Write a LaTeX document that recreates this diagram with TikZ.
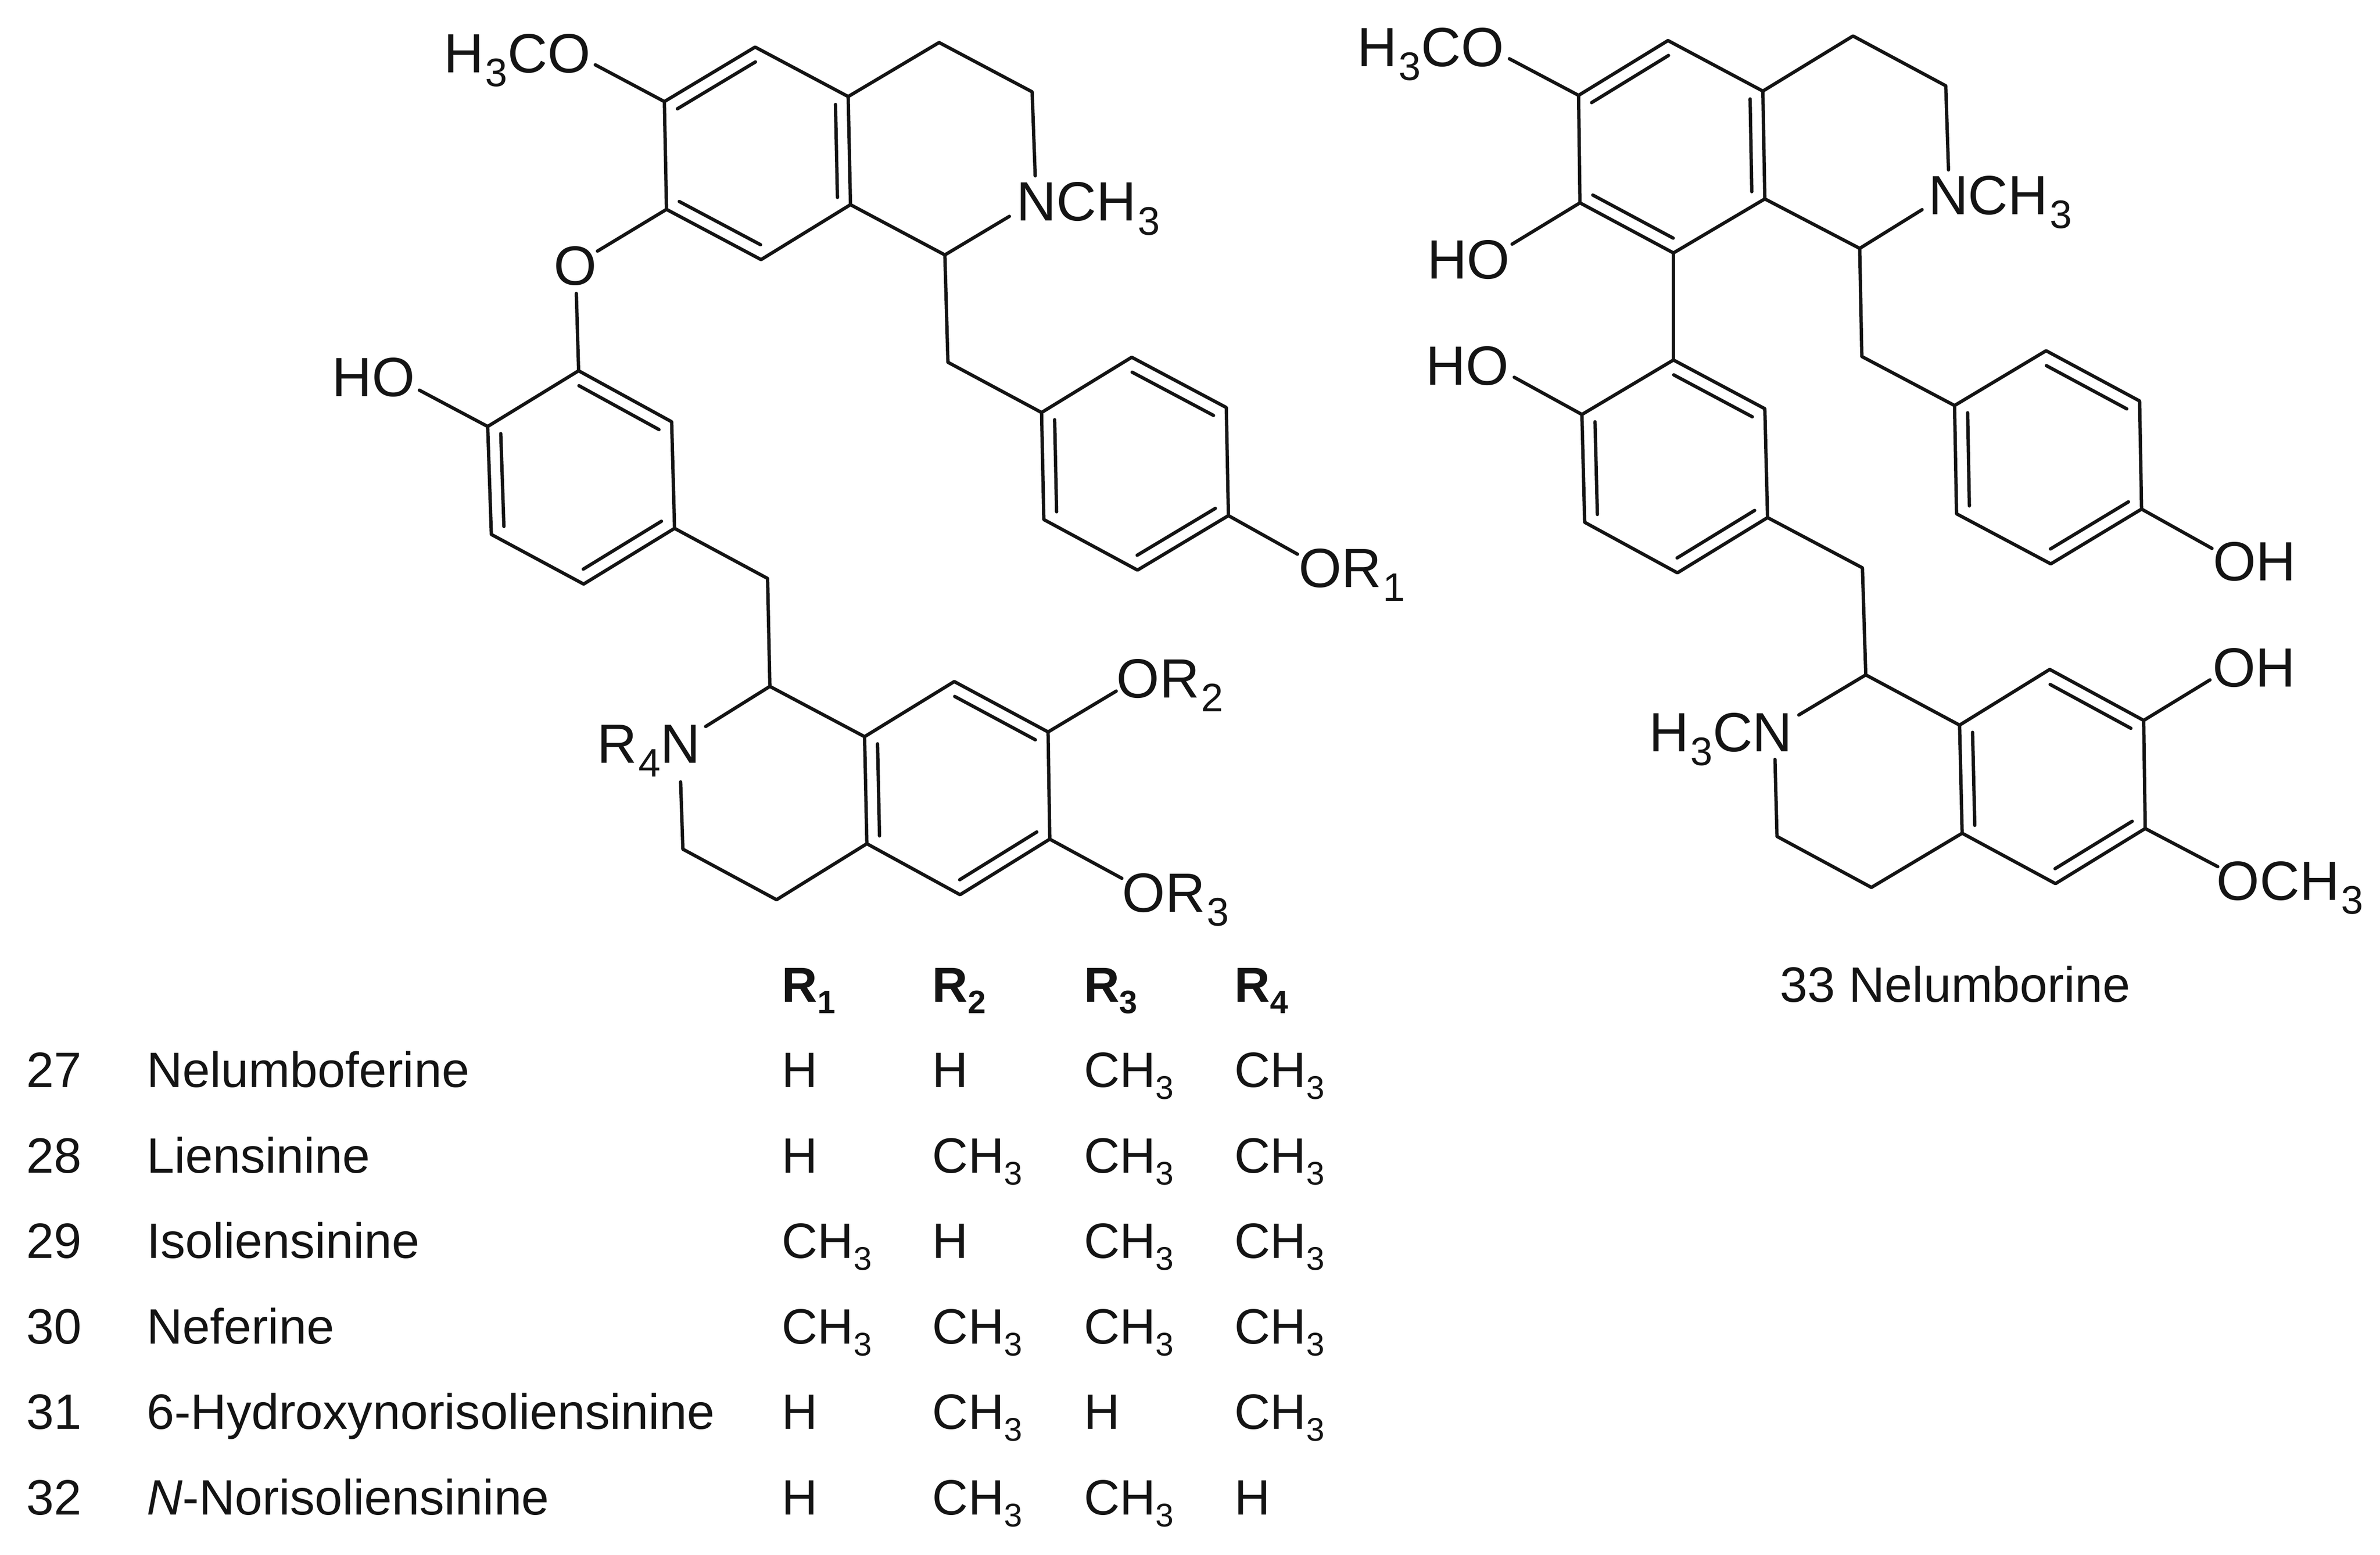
\documentclass[tikz,border=0pt]{standalone}
\usepackage{fontspec}
\setmainfont{Liberation Sans}
\usetikzlibrary{calc}
\newcommand{\lowsub}[1]{\raisebox{-0.24em}{\scalebox{0.66}{#1}}}
\newcommand{\chsub}[1]{\kern0.03em\raisebox{-0.25em}{\scalebox{0.72}{#1}}}
\newcommand{\dblbond}[3]{\draw[bond] ($(#1)!0.14!(#3)$) -- ($(#2)!0.14!(#3)$);}
\tikzset{
  bond/.style={line width=1.1pt,line join=round,line cap=round,draw=black!92},
  chemlabel/.style={anchor=base west,inner sep=0pt,outer sep=0pt,xshift=-0.8pt,text=black!92,font=\fontsize{18.2}{20}\selectfont},
  tablabel/.style={anchor=base west,inner sep=0pt,outer sep=0pt,xshift=-0.7pt,text=black!92,font=\fontsize{16.35}{18}\selectfont},
  tabhead/.style={tablabel,font=\fontsize{16.2}{18}\selectfont\bfseries}
}
\begin{document}
\begin{tikzpicture}[x=0.5pt,y=-0.5pt]
\useasboundingbox (0,0) rectangle (1568,1024.1);
\fill[white] (0,0) rectangle (1568,1024.1);
% ---------- left structure: atoms
\coordinate (la1) at (437.7,66.9); \coordinate (la2) at (497.5,31);
\coordinate (la3) at (558.8,63.6); \coordinate (la4) at (560.3,134.8);
\coordinate (la5) at (501.4,171);  \coordinate (la6) at (439.1,137.9);
\coordinate (la7) at (618.7,28);   \coordinate (la8) at (680,60.5);
\coordinate (laN) at (682,115.8);  \coordinate (laNb) at (665,142.5);
\coordinate (la9) at (622.5,167.9); \coordinate (la10) at (624.5,238.6);
\coordinate (lmeo) at (392.2,42.7); \coordinate (loa) at (393.6,165.4);
\coordinate (lob) at (379.7,193.3); \coordinate (lho) at (276.3,257);
\coordinate (lb1) at (381.2,244.2); \coordinate (lb2) at (442.5,277.8);
\coordinate (lb3) at (444.4,348);   \coordinate (lb4) at (384.5,384.7);
\coordinate (lb5) at (323.7,352);   \coordinate (lb6) at (321.3,280.9);
\coordinate (lch) at (505.7,381);
\coordinate (lc1) at (686.2,271.7); \coordinate (lc2) at (745.6,235.3);
\coordinate (lc3) at (807.9,268.4); \coordinate (lc4) at (809.3,339.6);
\coordinate (lc5) at (749.4,375.5); \coordinate (lc6) at (687.7,342.2);
\coordinate (lor1) at (854.8,365);
\coordinate (ld0) at (507.2,452.1); \coordinate (ldNa) at (464.9,478.5);
\coordinate (ld1) at (569.6,485.2); \coordinate (ld2) at (628.7,448.9);
\coordinate (ld3) at (690.5,482.1); \coordinate (ld4) at (691.6,552.7);
\coordinate (ld5) at (632.5,589.3); \coordinate (ld6) at (571.1,555.7);
\coordinate (ld7) at (511.6,592.6); \coordinate (ld8) at (449.9,559.3);
\coordinate (ldNb) at (448.4,515);
\coordinate (lor2) at (735.4,455.2); \coordinate (lor3) at (739.1,578.5);
\coordinate (lca) at ($(la1)!0.5!(la4)$); \coordinate (lcb) at ($(lb1)!0.5!(lb4)$);
\coordinate (lcc) at ($(lc1)!0.5!(lc4)$); \coordinate (lcd) at ($(ld1)!0.5!(ld4)$);
% left bonds
\draw[bond] (la1) -- (la2) -- (la3) -- (la4) -- (la5) -- (la6) -- cycle;
\draw[bond] (la3) -- (la7) -- (la8) -- (laN);
\draw[bond] (la4) -- (la9) -- (laNb);
\draw[bond] (la9) -- (la10) -- (lc1);
\draw[bond] (la1) -- (lmeo);
\draw[bond] (la6) -- (loa);
\draw[bond] (lob) -- (lb1);
\draw[bond] (lb1) -- (lb2) -- (lb3) -- (lb4) -- (lb5) -- (lb6) -- cycle;
\draw[bond] (lb6) -- (lho);
\draw[bond] (lb3) -- (lch) -- (ld0);
\draw[bond] (lc1) -- (lc2) -- (lc3) -- (lc4) -- (lc5) -- (lc6) -- cycle;
\draw[bond] (lc4) -- (lor1);
\draw[bond] (ldNa) -- (ld0) -- (ld1);
\draw[bond] (ld1) -- (ld2) -- (ld3) -- (ld4) -- (ld5) -- (ld6) -- cycle;
\draw[bond] (ld6) -- (ld7) -- (ld8) -- (ldNb);
\draw[bond] (ld3) -- (lor2);
\draw[bond] (ld4) -- (lor3);
\dblbond{la1}{la2}{lca} \dblbond{la3}{la4}{lca} \dblbond{la5}{la6}{lca}
\dblbond{lb1}{lb2}{lcb} \dblbond{lb3}{lb4}{lcb} \dblbond{lb5}{lb6}{lcb}
\dblbond{lc2}{lc3}{lcc} \dblbond{lc4}{lc5}{lcc} \dblbond{lc6}{lc1}{lcc}
\dblbond{ld1}{ld6}{lcd} \dblbond{ld2}{ld3}{lcd} \dblbond{ld4}{ld5}{lcd}
% left labels
\node[chemlabel] (lt1) at (294,47.8) {H\chsub{3}CO};
\node[chemlabel] (lt2) at (671.4,145.5) {NCH\chsub{3}};
\node[chemlabel] (lt3) at (366.5,187.7) {O};
\node[chemlabel] (lt4) at (220.3,261) {HO};
\node[chemlabel] (lt5) at (857.2,386.7) {OR\chsub{1}};
\node[chemlabel] (lt6) at (737.2,459.7) {OR\chsub{2}};
\node[chemlabel] (lt7) at (741,600.6) {OR\chsub{3}};
\node[chemlabel] (lt8) at (394.9,502.4) {R\chsub{4}N};
% ---------- right structure: atoms
\coordinate (ra1) at (1040,62.8);   \coordinate (ra2) at (1098.9,26.7);
\coordinate (ra3) at (1161.4,60);   \coordinate (ra4) at (1162.7,131);
\coordinate (ra5) at (1102.5,166.6); \coordinate (ra6) at (1040.9,133.6);
\coordinate (ra7) at (1220.8,23.7); \coordinate (ra8) at (1281.9,56.5);
\coordinate (raN) at (1283.7,111.9); \coordinate (raNb) at (1266.3,138.1);
\coordinate (ra9) at (1225.2,163.6); \coordinate (ra10) at (1226.6,234.8);
\coordinate (rmeo) at (994.4,38.7); \coordinate (rho1) at (996.2,160.8);
\coordinate (rb1) at (1102.5,237.1); \coordinate (rb2) at (1162.7,269.2);
\coordinate (rb3) at (1164.5,340.9); \coordinate (rb4) at (1105.1,377.3);
\coordinate (rb5) at (1044,344);    \coordinate (rb6) at (1042.2,273);
\coordinate (rho2) at (997.6,248.5); \coordinate (rch) at (1227,374);
\coordinate (rc1) at (1287.7,267.1); \coordinate (rc2) at (1348,231);
\coordinate (rc3) at (1409.6,264.1); \coordinate (rc4) at (1410.9,335.3);
\coordinate (rc5) at (1351.1,371.4); \coordinate (rc6) at (1289,338.4);
\coordinate (roh1) at (1457.3,361.2);
\coordinate (rd0) at (1229.2,444.5); \coordinate (rdNa) at (1185.1,470.9);
\coordinate (rd1) at (1291,477.6);  \coordinate (rd2) at (1350.4,440.9);
\coordinate (rd3) at (1412.3,474.5); \coordinate (rd4) at (1413.3,545.7);
\coordinate (rd5) at (1354.2,582);  \coordinate (rd6) at (1292.7,548.8);
\coordinate (rd7) at (1232.9,584.5); \coordinate (rd8) at (1170.7,550.9);
\coordinate (rdNb) at (1169.4,500.2);
\coordinate (roh2) at (1456,447.8); \coordinate (rome) at (1461.1,570.8);
\coordinate (rca) at ($(ra1)!0.5!(ra4)$); \coordinate (rcb) at ($(rb1)!0.5!(rb4)$);
\coordinate (rcc) at ($(rc1)!0.5!(rc4)$); \coordinate (rcd) at ($(rd1)!0.5!(rd4)$);
% right bonds
\draw[bond] (ra1) -- (ra2) -- (ra3) -- (ra4) -- (ra5) -- (ra6) -- cycle;
\draw[bond] (ra3) -- (ra7) -- (ra8) -- (raN);
\draw[bond] (ra4) -- (ra9) -- (raNb);
\draw[bond] (ra9) -- (ra10) -- (rc1);
\draw[bond] (ra1) -- (rmeo);
\draw[bond] (ra6) -- (rho1);
\draw[bond] (ra5) -- (rb1);
\draw[bond] (rb1) -- (rb2) -- (rb3) -- (rb4) -- (rb5) -- (rb6) -- cycle;
\draw[bond] (rb6) -- (rho2);
\draw[bond] (rb3) -- (rch) -- (rd0);
\draw[bond] (rc1) -- (rc2) -- (rc3) -- (rc4) -- (rc5) -- (rc6) -- cycle;
\draw[bond] (rc4) -- (roh1);
\draw[bond] (rdNa) -- (rd0) -- (rd1);
\draw[bond] (rd1) -- (rd2) -- (rd3) -- (rd4) -- (rd5) -- (rd6) -- cycle;
\draw[bond] (rd6) -- (rd7) -- (rd8) -- (rdNb);
\draw[bond] (rd3) -- (roh2);
\draw[bond] (rd4) -- (rome);
\dblbond{ra1}{ra2}{rca} \dblbond{ra3}{ra4}{rca} \dblbond{ra5}{ra6}{rca}
\dblbond{rb1}{rb2}{rcb} \dblbond{rb3}{rb4}{rcb} \dblbond{rb5}{rb6}{rcb}
\dblbond{rc2}{rc3}{rcc} \dblbond{rc4}{rc5}{rcc} \dblbond{rc6}{rc1}{rcc}
\dblbond{rd1}{rd6}{rcd} \dblbond{rd2}{rd3}{rcd} \dblbond{rd4}{rd5}{rcd}
% right labels
\node[chemlabel] (rt1) at (895.8,43.8) {H\chsub{3}CO};
\node[chemlabel] (rt2) at (1272,141.2) {NCH\chsub{3}};
\node[chemlabel] (rt3) at (941.8,183.7) {HO};
\node[chemlabel] (rt4) at (940.9,253.4) {HO};
\node[chemlabel] (rt5) at (1459.6,382.4) {OH};
\node[chemlabel] (rt6) at (1459.4,452.5) {OH};
\node[chemlabel] (rt7) at (1462,592.8) {OCH\chsub{3}};
\node[chemlabel] (rt8) at (1088,495) {H\chsub{3}CN};
\node[tablabel] (rname) at (1174.2,659.9) {33 Nelumborine};
% ---------- table
\node[tabhead] (h1) at (516.5,659.8) {R\lowsub{1}};
\node[tabhead] (h2) at (615.7,659.8) {R\lowsub{2}};
\node[tabhead] (h3) at (715.5,659.8) {R\lowsub{3}};
\node[tabhead] (h4) at (814.7,659.8) {R\lowsub{4}};
\newcommand{\tabrow}[7]{%
  \node[tablabel] (n#1) at (18.7,#2) {#1};
  \node[tablabel] (m#1) at (98,#2) {#3};
  \node[tablabel] (a#1) at (516.5,#2) {#4};
  \node[tablabel] (b#1) at (615.7,#2) {#5};
  \node[tablabel] (c#1) at (715.5,#2) {#6};
  \node[tablabel] (d#1) at (814.7,#2) {#7};
}
\newcommand{\me}{CH\lowsub{3}}
\tabrow{27}{716.2}{Nelumboferine}{H}{H}{\me}{\me}
\tabrow{28}{772.4}{Liensinine}{H}{\me}{\me}{\me}
\tabrow{29}{828.6}{Isoliensinine}{\me}{H}{\me}{\me}
\tabrow{30}{885}{Neferine}{\me}{\me}{\me}{\me}
\tabrow{31}{941.3}{6-Hydroxynorisoliensinine}{H}{\me}{H}{\me}
\tabrow{32}{997.7}{\textit{N}-Norisoliensinine}{H}{\me}{\me}{H}
\end{tikzpicture}
\end{document}
